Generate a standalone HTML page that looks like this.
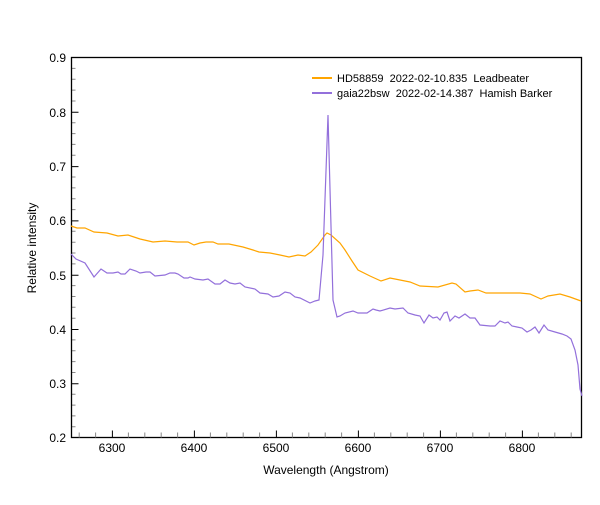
<!DOCTYPE html>
<html><head><style>body{margin:0;background:#fff}svg{font-family:"Liberation Sans",Arial,sans-serif}</style></head><body>
<svg width="600" height="500" viewBox="0 0 600 500">
<rect x="0" y="0" width="600" height="500" fill="#fff"/>
<g stroke="#888" stroke-width="1">
<path d="M71.5 68.4h4M71.5 79.3h4M71.5 90.1h4M71.5 101h4M71.5 122.7h4M71.5 133.6h4M71.5 144.4h4M71.5 155.3h4M71.5 177h4M71.5 187.9h4M71.5 198.7h4M71.5 209.6h4M71.5 231.3h4M71.5 242.2h4M71.5 253h4M71.5 263.9h4M71.5 285.6h4M71.5 296.5h4M71.5 307.3h4M71.5 318.2h4M71.5 339.9h4M71.5 350.8h4M71.5 361.6h4M71.5 372.5h4M71.5 394.2h4M71.5 405.1h4M71.5 415.9h4M71.5 426.8h4"/>
</g>
<g stroke="#888" stroke-width="1" id="xm"></g>
<rect x="71.5" y="57.5" width="510" height="380" fill="none" stroke="#000" stroke-width="1.3"/>
<g font-size="12" fill="#000" text-anchor="end">
<text x="66" y="62">0.9</text><text x="66" y="117">0.8</text><text x="66" y="171">0.7</text><text x="66" y="225">0.6</text><text x="66" y="280">0.5</text><text x="66" y="334">0.4</text><text x="66" y="388">0.3</text><text x="66" y="442">0.2</text>
</g>
<g font-size="12" fill="#000" text-anchor="middle">
<text x="112" y="452">6300</text><text x="194" y="452">6400</text><text x="276" y="452">6500</text><text x="358" y="452">6600</text><text x="440" y="452">6700</text><text x="522" y="452">6800</text>
</g>
<text x="326" y="474" font-size="12" text-anchor="middle">Wavelength (Angstrom)</text>
<text transform="translate(36,248) rotate(-90)" font-size="12" text-anchor="middle">Relative intensity</text>
<polyline fill="none" stroke="#ffa500" stroke-width="1.2" points="71,226 77,228 85,228 94,232 107,233 118,236 128,235 140,239 153,242 165,241 177,242 188,242 194,245 200,243 206,242 213,242 218,244 229,244 243,247 253,250 259,252 270,253 280,255 289,257 298,255 305,256 311,252 318,245 325,235 327,233 331,235 340,243 345,250 352,261 358,270 370,276 381,281 390,278 400,280 410,282 420,286 438,287 452,283 456,284 465,292 470,291 478,290 486,293 500,293 520,293 530,294 541,299 548,296 560,294 570,297 581,301"/>
<polyline fill="none" stroke="#9370db" stroke-width="1.2" points="71,254 76,259 85,263 94,277 101,269 107,273 113,273 118,272 121,274 125,274 130,269 136,271 140,273 146,272 150,272 155,276 165,275 170,273 175,273 178,274 184,278 188,278 190,277 195,279 203,280 208,279 215,284 220,284 225,280 230,283 235,284 240,283 245,287 255,289 260,293 268,294 273,297 279,296 285,292 290,293 295,297 300,298 310,303 315,301 319,300 323,255 328,115 333,300 337,317 340,316 345,313 353,311 358,313 367,313 370,311 373,309 376,310 380,311 390,308 395,309 403,308 408,313 415,315 420,316 424,323 429,315 433,318 437,317 440,320 444,313 447,312 450,321 455,316 459,318 465,314 470,318 475,318 480,325 490,326 495,326 500,321 505,323 508,322 512,326 517,327 522,328 527,332 531,330 535,327 539,333 544,325 548,330 555,332 562,334 567,336 571,339 575,350 578,365 580,389 582,396"/>
<line x1="312" y1="78" x2="332" y2="78" stroke="#ffa500" stroke-width="2"/>
<line x1="312" y1="93" x2="332" y2="93" stroke="#9370db" stroke-width="2"/>
<text x="337" y="82" font-size="11" xml:space="preserve">HD58859  2022-02-10.835  Leadbeater</text>
<text x="337" y="97" font-size="11" xml:space="preserve">gaia22bsw  2022-02-14.387  Hamish Barker</text>
<path stroke="#888" d="M79.2 437.5v-5M95.6 437.5v-5M128.4 437.5v-5M144.8 437.5v-5M161.2 437.5v-5M177.6 437.5v-5M210.4 437.5v-5M226.8 437.5v-5M243.2 437.5v-5M259.6 437.5v-5M292.4 437.5v-5M308.8 437.5v-5M325.2 437.5v-5M341.6 437.5v-5M374.4 437.5v-5M390.8 437.5v-5M407.2 437.5v-5M423.6 437.5v-5M456.4 437.5v-5M472.8 437.5v-5M489.2 437.5v-5M505.6 437.5v-5M538.4 437.5v-5M554.8 437.5v-5M571.2 437.5v-5"/>
<path stroke="#000" d="M112.4 437.5v-7M194.4 437.5v-7M276.4 437.5v-7M358.4 437.5v-7M440.4 437.5v-7M522.4 437.5v-7M71.5 112.3h7M71.5 166.6h7M71.5 220.9h7M71.5 275.2h7M71.5 329.5h7M71.5 383.8h7"/>
</svg>
</body></html>
